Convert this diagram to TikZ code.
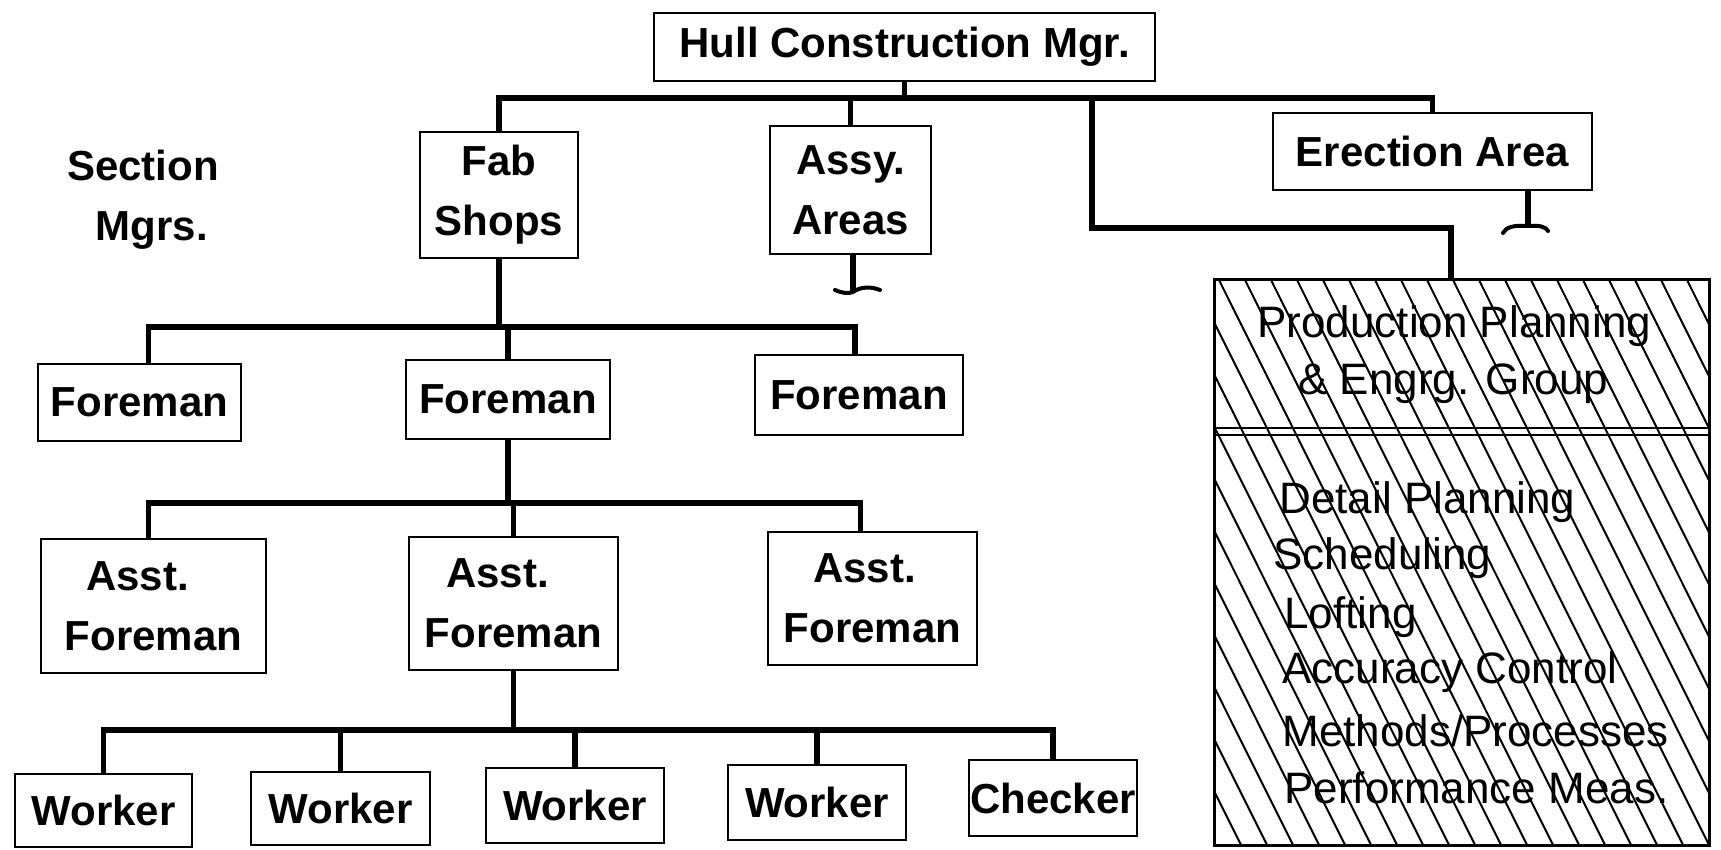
\documentclass[tikz,border=0pt]{standalone}
\usepackage{fontspec}
\setmainfont{Liberation Sans}
\begin{document}
\begin{tikzpicture}[x=0.5pt,y=-0.5pt,
 box/.style={draw,line width=1.3pt,inner sep=0pt,align=center,font=\fontsize{21}{30}\selectfont\bfseries},
 conn/.style={line width=2.6pt},
 squig/.style={line width=2pt,line cap=round},
 hatchline/.style={line width=1pt},
 ptext/.style={anchor=west,inner sep=0pt,font=\fontsize{22}{26}\selectfont}]
\useasboundingbox (0,0) rectangle (1721,850);

% boxes
\node[box,minimum width=250.5pt,minimum height=34pt] (hull) at (904.5,47) {Hull Construction Mgr.};
\node[box,minimum width=79pt,minimum height=63pt] (fab) at (499,195) {Fab\\Shops};
\node[box,minimum width=80.5pt,minimum height=64pt] (assy) at (850.5,190) {Assy.\\Areas};
\node[box,minimum width=159.5pt,minimum height=38.5pt] (erect) at (1432.5,151.5) {Erection Area};
\node[inner sep=0pt,align=center,font=\fontsize{21}{30}\selectfont\bfseries] (sect) at (143,200) {Section\\\hspace*{9pt}Mgrs.};

\node[box,minimum width=101.5pt,minimum height=38.5pt] (f1) at (139.5,402.5) {Foreman};
\node[box,minimum width=102pt,minimum height=39.5pt] (f2) at (508,399.5) {Foreman};
\node[box,minimum width=104pt,minimum height=40pt] (f3) at (859,395) {Foreman};

\node[box,minimum width=112.5pt,minimum height=67pt] (a1) at (153.5,606) {Asst.\hspace*{16pt}\\Foreman};
\node[box,minimum width=104.5pt,minimum height=66.5pt] (a2) at (513.5,603.5) {Asst.\hspace*{16pt}\\Foreman};
\node[box,minimum width=104.5pt,minimum height=66.5pt] (a3) at (872.5,598.5) {Asst.\hspace*{8pt}\\Foreman};

\node[box,minimum width=88.5pt,minimum height=36.5pt] (w1) at (103.5,810.5) {Worker};
\node[box,minimum width=89.5pt,minimum height=36.5pt] (w2) at (340.5,808.5) {Worker};
\node[box,minimum width=89pt,minimum height=37.5pt] (w3) at (575,805.5) {Worker};
\node[box,minimum width=89pt,minimum height=37.5pt] (w4) at (817,802.5) {Worker};
\node[box,minimum width=84pt,minimum height=38pt] (chk) at (1053,798) {Checker};

% hatched box
\node[draw=none,minimum width=247pt,minimum height=282.5pt,inner sep=0pt] (ppe) at (1462,562.5) {};
\begin{scope}
\clip (1215,280) rectangle (1709,845);
\foreach \i in {0,...,47} {
  \draw[hatchline] ({933+26*\i},280) -- ({933+26*\i+282},845);
}
\end{scope}
\draw[line width=1.5pt] (ppe.north west) rectangle (ppe.south east);
\draw[line width=1pt] (1215,428) -- (1709,428);
\draw[line width=1pt] (1215,435) -- (1709,435);

\node[ptext] (p1) at (1257,326) {Production Planning};
\node[ptext] (p2) at (1298,384) {\& Engrg. Group};
\node[ptext] (p3) at (1279,502) {Detail Planning};
\node[ptext] (p4) at (1273,558) {Scheduling};
\node[ptext] (p5) at (1284,617) {Lofting};
\node[ptext] (p6) at (1282,672) {Accuracy Control};
\node[ptext] (p7) at (1282,731) {Methods/Processes};
\node[ptext] (p8) at (1284,788) {Performance Meas.};

% connectors level 1
\coordinate (b1) at (0,98);
\draw[conn] (hull.south) -- (hull.south |- b1);
\draw[conn] (fab.north) -- (fab.north |- b1) -- (erect.north |- b1) -- (erect.north);
\draw[conn] (assy.north) -- (assy.north |- b1);
\coordinate (j1) at (1092,98);
\coordinate (j2) at (1092,228);
\draw[conn] (j1) -- (j2) -| ([xshift=-5.5pt]ppe.north);

% level 2
\coordinate (b2) at (0,327);
\draw[conn] (fab.south) -- (fab.south |- b2);
\draw[conn] ([xshift=4.5pt]f1.north) -- ([xshift=4.5pt]f1.north |- b2) -- ([xshift=-2pt]f3.north |- b2) -- ([xshift=-2pt]f3.north);
\draw[conn] (f2.north) -- (f2.north |- b2);

% level 3
\coordinate (b3) at (0,503);
\draw[conn] (f2.south) -- (f2.south |- b3);
\draw[conn] ([xshift=-2.5pt]a1.north) -- ([xshift=-2.5pt]a1.north |- b3) -- ([xshift=-6pt]a3.north |- b3) -- ([xshift=-6pt]a3.north);
\draw[conn] (a2.north) -- (a2.north |- b3);

% level 4
\coordinate (b4) at (0,730);
\draw[conn] (a2.south) -- (a2.south |- b4);
\draw[conn] (w1.north) -- (w1.north |- b4) -- (chk.north |- b4) -- (chk.north);
\draw[conn] (w2.north) -- (w2.north |- b4);
\draw[conn] (w3.north) -- (w3.north |- b4);
\draw[conn] (w4.north) -- (w4.north |- b4);

% open-ended stubs
\coordinate (sa) at (853,292);
\draw[conn] (assy.south -| sa) -- (sa);
\draw[squig] (835,290) .. controls (842,293) and (848,294) .. (853,292) .. controls (860,287) and (870,286) .. (880,290);
\coordinate (se) at (1528,226);
\draw[conn] (erect.south -| se) -- (se);
\draw[squig] (1503,233) .. controls (1506,227) and (1514,225) .. (1528,226) .. controls (1540,225) and (1546,227) .. (1548,231);
\end{tikzpicture}
\end{document}
